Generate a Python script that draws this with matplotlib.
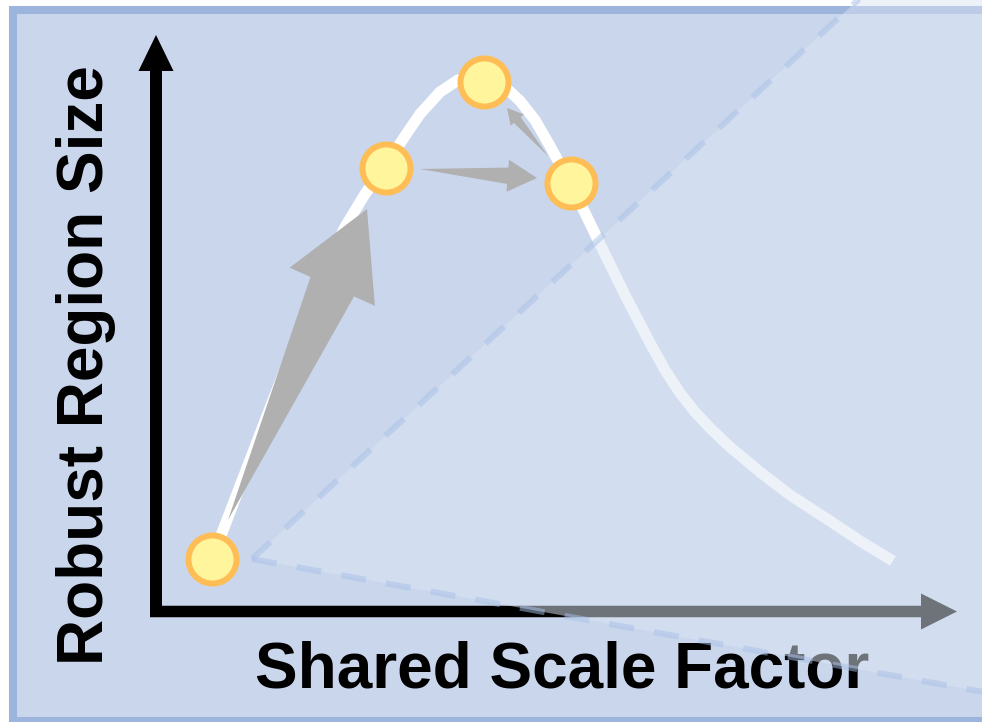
import numpy as np
import matplotlib.pyplot as plt
from matplotlib.patches import Rectangle, Polygon

plt.rcParams['font.family'] = ['Liberation Sans', 'DejaVu Sans']

# schematic coordinates: x to the right, y downward (same unit on both axes)
curve_x = [212, 240, 270, 300, 325, 345, 365, 386, 405, 420, 440, 458, 475,
           490, 505, 520, 535, 550, 570, 585, 600, 625, 650, 665, 680, 695,
           710, 730, 760, 790, 830, 860, 893]
curve_y = [559, 486, 408, 331, 268, 227, 194, 165, 136, 114, 92, 80, 76,
           79, 87, 101, 120, 146, 183, 213, 244, 295, 343, 370, 393, 412,
           428, 447, 472, 495, 521, 541, 561]

pts_x = [212, 386, 484, 571]
pts_y = [559, 168, 82, 183]

arrow_tail = [(228, 520), (420, 169), (548, 156)]
arrow_tip = [(367, 209), (537, 178), (507, 108)]

wedge_apex = (252, 559)
wedge_up = (1000, -131)
wedge_low = (1000, 695)

xlabel = 'Shared Scale Factor'
ylabel = 'Robust Region Size'

fig = plt.figure(figsize=(9.82, 7.22), dpi=100)
ax = fig.add_axes([0, 0, 1, 1])
ax.set_xlim(0, 982)
ax.set_ylim(722, 0)
ax.axis('off')

# panel
ax.add_patch(Rectangle((13, 9.5), 990, 711, facecolor='#c9d6ec',
                       edgecolor='#9db4dd', lw=5.8, zorder=0))

# curve
ax.plot(curve_x, curve_y, color='white', lw=8, solid_capstyle='butt',
        solid_joinstyle='round', zorder=2)

# gray step arrows
for (tx, ty), (hx, hy) in zip(arrow_tail, arrow_tip):
    tail = np.array([tx, ty], float)
    tip = np.array([hx, hy], float)
    d = tip - tail
    L = np.hypot(*d)
    u = d / L
    n = np.array([-u[1], u[0]])
    base = tip - u * 0.25 * L
    bw, hw = 0.07 * L, 0.137 * L
    verts = [tail, base + n * bw, base + n * hw, tip, base - n * hw, base - n * bw]
    ax.add_patch(Polygon(verts, closed=True, fc='#b0b0b0', ec='none', zorder=3))

# points
ax.plot(pts_x, pts_y, 'o', ms=34.6, mfc='#fff59d', mec='#ffbe55', mew=4.3,
        zorder=4)

# axes arrows
ax.arrow(150, 611.5, 807, 0, width=11.5, head_width=36, head_length=36,
         length_includes_head=True, fc='black', ec='none', zorder=5)
ax.arrow(156, 617, 0, -582, width=12, head_width=35, head_length=36,
         length_includes_head=True, fc='black', ec='none', zorder=5)

ax.text(562, 688, xlabel, ha='center', va='baseline', fontsize=46,
        fontweight='bold', zorder=6)
ax.text(103, 365, ylabel, ha='center', va='baseline', rotation=90,
        rotation_mode='anchor', fontsize=46, fontweight='bold', zorder=6)

# lighter wedge overlay
ax.add_patch(Polygon([wedge_apex, wedge_up, wedge_low], closed=True,
                     fc='#dce4f2', ec='none', alpha=0.5, zorder=10))
for end in (wedge_up, wedge_low):
    ax.plot([wedge_apex[0], end[0]], [wedge_apex[1], end[1]], color='#a9c1e8',
            alpha=0.5, lw=4.3, dashes=(4.2, 3.4), solid_capstyle='butt',
            zorder=11)

fig.savefig('out.png', dpi=100, facecolor='white')
